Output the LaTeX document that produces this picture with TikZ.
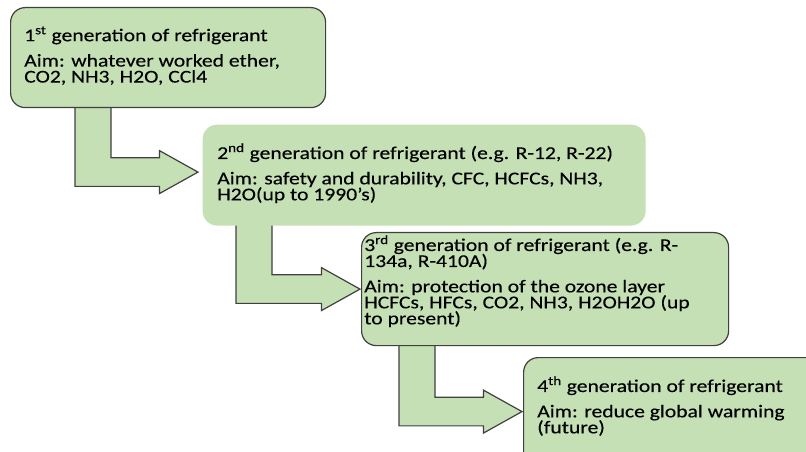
\documentclass[tikz,border=0pt]{standalone}
\usepackage{fontspec}
\setmainfont{Carlito}[FakeStretch=1.2, FakeBold=0.25]
\usepackage{tikz}
\usetikzlibrary{positioning, calc, backgrounds}

% text of the boxes
\newcommand{\gentxt}{\fontsize{13.5pt}{12pt}\selectfont\lineskiplimit=-20pt\color{black}}

% bent block arrow: source box, bar left x, tip
\newcommand{\bentarrow}[3]{%
  \draw[genarrow] let \p1=(#1.south), \p2=(#3), \p3=(#2,0) in
    (\x3,\y1+4pt) -- (\x3,\y2-10.7pt) -- (\x2-28.9pt,\y2-10.7pt) -- (\x2-28.9pt,\y2-16.1pt)
    -- (\p2) -- (\x2-28.9pt,\y2+16.1pt) -- (\x2-28.9pt,\y2+10.7pt) -- (\x3+27pt,\y2+10.7pt)
    -- (\x3+27pt,\y1+4pt) -- cycle;}

\begin{document}
\begin{tikzpicture}[x=0.75pt, y=-0.75pt,
  genbox/.style={draw=contorno, line width=0.9pt, fill=folha, rounded corners=11pt,
    anchor=north west, inner sep=0pt},
  gentext/.style={anchor=north west, inner sep=0pt, align=left, font=\gentxt},
  genarrow/.style={draw=contorno, line width=0.9pt, fill=folha}]
% --- CORES ---
\definecolor{folha}{HTML}{C5E0B4}
\definecolor{contorno}{HTML}{404040}

\useasboundingbox (0,0) rectangle (806,452);
\clip (0,0) rectangle (806,452);

% LAYER 1: caixas das geracoes
\node[genbox, minimum width=236.25pt, minimum height=75pt] (gen1) at (10,7) {};
\node[genbox, draw=none, minimum width=332.25pt, minimum height=75.75pt] (gen2) at (202,124) {};
\node[genbox, minimum width=275.25pt, minimum height=84.75pt] (gen3) at (361,232) {};
\node[genbox, minimum width=237.75pt, minimum height=92.25pt] (gen4) at (523,357) {};

% LAYER 2: textos
\node[gentext] (txt1) at ($(gen1.north west)+(14,19)$)
  {1\textsuperscript{st} generation of refrigerant\\[7pt]
   Aim: whatever worked ether,\\ CO2, NH3, H2O, CCl4};
\node[gentext] (txt2) at ($(gen2.north west)+(15,19)$)
  {2\textsuperscript{nd} generation of refrigerant (e.g. R-12, R-22)\\[7pt]
   Aim: safety and durability, CFC, HCFCs, NH3,\\ H2O(up to 1990’s)};
\node[gentext] (txt3) at ($(gen3.north west)+(3,3)$)
  {3\textsuperscript{rd} generation of refrigerant (e.g. R-\\ 134a, R-410A)\\[7pt]
   Aim: protection of the ozone layer\\ HCFCs, HFCs, CO2, NH3, H2OH2O (up\\ to present)};
\node[gentext] (txt4) at ($(gen4.north west)+(14,19)$)
  {4\textsuperscript{th} generation of refrigerant\\[7pt]
   Aim: reduce global warming\\ (future)};

% LAYER 3: setas dobradas (atras das caixas)
\begin{scope}[on background layer]
\bentarrow{gen1}{75}{$(gen2.west)+(-4,-3)$}
\bentarrow{gen2}{236}{$(gen3.west)+(-1,0)$}
\bentarrow{gen3}{399}{$(gen4.west)+(-1,-7.5)$}
\end{scope}
\end{tikzpicture}
\end{document}
